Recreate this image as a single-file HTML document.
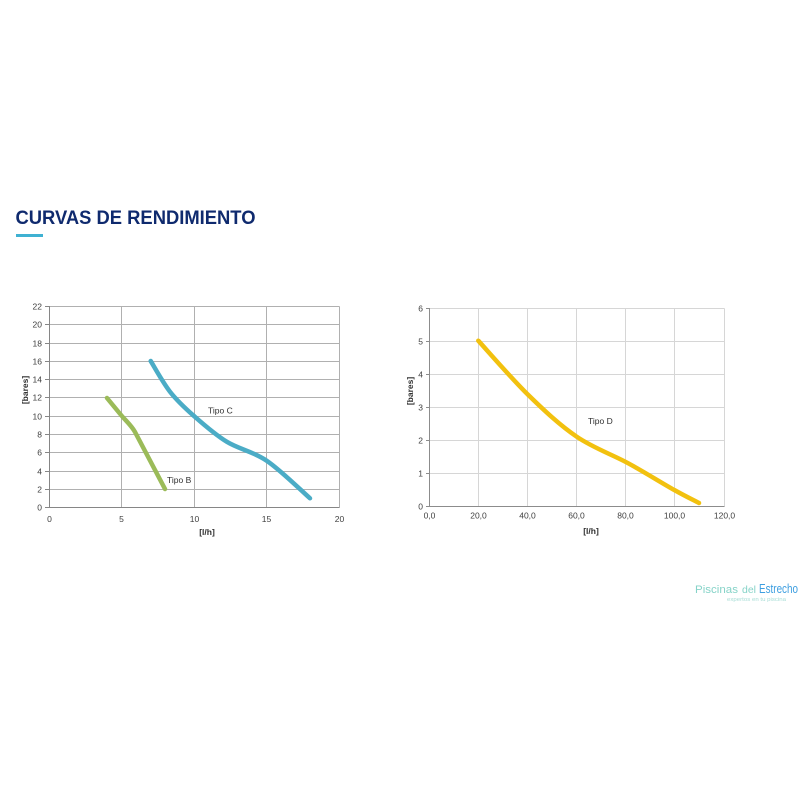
<!DOCTYPE html>
<html>
<head>
<meta charset="utf-8">
<style>
html,body{margin:0;padding:0;background:#fff;}
svg{display:block;}
text{font-family:"Liberation Sans",sans-serif;}
</style>
</head>
<body>
<svg width="800" height="800" viewBox="0 0 800 800" xmlns="http://www.w3.org/2000/svg">
<rect width="800" height="800" fill="#fff"/>
<!-- Title -->
<text x="15.5" y="224" font-size="19" font-weight="bold" fill="#0f2a6e" textLength="240" lengthAdjust="spacingAndGlyphs">CURVAS DE RENDIMIENTO</text>
<rect x="16" y="234" width="27" height="3" fill="#3fb1d2"/>

<!-- Left chart grid -->
<g stroke="#b0b0b0" stroke-width="1" fill="none">
<line x1="49" y1="489.5" x2="339.5" y2="489.5"/>
<line x1="49" y1="471.5" x2="339.5" y2="471.5"/>
<line x1="49" y1="452.5" x2="339.5" y2="452.5"/>
<line x1="49" y1="434.5" x2="339.5" y2="434.5"/>
<line x1="49" y1="416.5" x2="339.5" y2="416.5"/>
<line x1="49" y1="397.5" x2="339.5" y2="397.5"/>
<line x1="49" y1="379.5" x2="339.5" y2="379.5"/>
<line x1="49" y1="361.5" x2="339.5" y2="361.5"/>
<line x1="49" y1="343.5" x2="339.5" y2="343.5"/>
<line x1="49" y1="324.5" x2="339.5" y2="324.5"/>
<line x1="49" y1="306.5" x2="339.5" y2="306.5"/>
<line x1="121.5" y1="306.5" x2="121.5" y2="507.5"/>
<line x1="194.5" y1="306.5" x2="194.5" y2="507.5"/>
<line x1="266.5" y1="306.5" x2="266.5" y2="507.5"/>
<line x1="339.5" y1="306.5" x2="339.5" y2="507.5"/>
</g>
<g stroke="#868686" stroke-width="1">
<line x1="49.5" y1="306" x2="49.5" y2="508"/>
<line x1="49" y1="507.5" x2="339.5" y2="507.5"/>
<line x1="45" y1="507.5" x2="49" y2="507.5"/><line x1="45" y1="489.5" x2="49" y2="489.5"/>
<line x1="45" y1="471.5" x2="49" y2="471.5"/><line x1="45" y1="452.5" x2="49" y2="452.5"/>
<line x1="45" y1="434.5" x2="49" y2="434.5"/><line x1="45" y1="416.5" x2="49" y2="416.5"/>
<line x1="45" y1="397.5" x2="49" y2="397.5"/><line x1="45" y1="379.5" x2="49" y2="379.5"/>
<line x1="45" y1="361.5" x2="49" y2="361.5"/><line x1="45" y1="343.5" x2="49" y2="343.5"/>
<line x1="45" y1="324.5" x2="49" y2="324.5"/><line x1="45" y1="306.5" x2="49" y2="306.5"/>
</g>
<g font-size="8.5" fill="#404040" text-anchor="end">
<text x="42" y="510.5">0</text>
<text x="42" y="492.5">2</text>
<text x="42" y="474.5">4</text>
<text x="42" y="455.5">6</text>
<text x="42" y="437.5">8</text>
<text x="42" y="419.5">10</text>
<text x="42" y="400.5">12</text>
<text x="42" y="382.5">14</text>
<text x="42" y="364.5">16</text>
<text x="42" y="346.5">18</text>
<text x="42" y="327.5">20</text>
<text x="42" y="309.5">22</text>
</g>
<g font-size="8.5" fill="#404040" text-anchor="middle">
<text x="49.5" y="522">0</text>
<text x="121.5" y="522">5</text>
<text x="194.5" y="522">10</text>
<text x="266.5" y="522">15</text>
<text x="339.5" y="522">20</text>
</g>
<text x="207" y="535" font-size="8.5" font-weight="bold" fill="#303030" text-anchor="middle">[l/h]</text>
<text transform="translate(28,390) rotate(-90)" font-size="8.5" font-weight="bold" fill="#303030" text-anchor="middle">[bares]</text>

<!-- Tipo B -->
<path d="M107,398 L121,415 C126,421 131,425 135,432 L165,489" fill="none" stroke="#9bbb59" stroke-width="4.5" stroke-linecap="round" stroke-linejoin="round"/>
<!-- Tipo C -->
<path d="M150.7,361 C153.9,366.1 162.8,382.5 170,391.7 C177.2,400.9 184.55,407.67 194,416 C203.45,424.33 214.6,434.25 226.7,441.7 C238.8,449.15 252.8,451.3 266.7,460.7 C280.6,470.1 302.8,492 310,498.3" fill="none" stroke="#4bacc6" stroke-width="4.5" stroke-linecap="round" stroke-linejoin="round"/>
<text x="208" y="413.5" font-size="8.5" fill="#303030">Tipo C</text>
<text x="167" y="483" font-size="8.5" fill="#303030">Tipo B</text>

<!-- Right chart grid -->
<g stroke="#d6d6d6" stroke-width="1" fill="none">
<line x1="429" y1="473.5" x2="724.5" y2="473.5"/>
<line x1="429" y1="440.5" x2="724.5" y2="440.5"/>
<line x1="429" y1="407.5" x2="724.5" y2="407.5"/>
<line x1="429" y1="374.5" x2="724.5" y2="374.5"/>
<line x1="429" y1="341.5" x2="724.5" y2="341.5"/>
<line x1="429" y1="308.5" x2="724.5" y2="308.5"/>
<line x1="478.5" y1="308.5" x2="478.5" y2="506.5"/>
<line x1="527.5" y1="308.5" x2="527.5" y2="506.5"/>
<line x1="576.5" y1="308.5" x2="576.5" y2="506.5"/>
<line x1="625.5" y1="308.5" x2="625.5" y2="506.5"/>
<line x1="674.5" y1="308.5" x2="674.5" y2="506.5"/>
<line x1="724.5" y1="308.5" x2="724.5" y2="506.5"/>
</g>
<g stroke="#8c8c8c" stroke-width="1">
<line x1="429.5" y1="308" x2="429.5" y2="507"/>
<line x1="429" y1="506.5" x2="724.5" y2="506.5"/>
<line x1="426" y1="506.5" x2="429" y2="506.5"/><line x1="426" y1="473.5" x2="429" y2="473.5"/>
<line x1="426" y1="440.5" x2="429" y2="440.5"/><line x1="426" y1="407.5" x2="429" y2="407.5"/>
<line x1="426" y1="374.5" x2="429" y2="374.5"/><line x1="426" y1="341.5" x2="429" y2="341.5"/>
<line x1="426" y1="308.5" x2="429" y2="308.5"/>
</g>
<g font-size="8.5" fill="#404040" text-anchor="end">
<text x="423" y="509.5">0</text>
<text x="423" y="476.5">1</text>
<text x="423" y="443.5">2</text>
<text x="423" y="410.5">3</text>
<text x="423" y="377.5">4</text>
<text x="423" y="344.5">5</text>
<text x="423" y="311.5">6</text>
</g>
<g font-size="8.5" fill="#404040" text-anchor="middle">
<text x="429.5" y="518.5">0,0</text>
<text x="478.5" y="518.5">20,0</text>
<text x="527.5" y="518.5">40,0</text>
<text x="576.5" y="518.5">60,0</text>
<text x="625.5" y="518.5">80,0</text>
<text x="674.5" y="518.5">100,0</text>
<text x="724.5" y="518.5">120,0</text>
</g>
<text x="591" y="534" font-size="8.5" font-weight="bold" fill="#303030" text-anchor="middle">[l/h]</text>
<text transform="translate(413,391) rotate(-90)" font-size="8.5" font-weight="bold" fill="#303030" text-anchor="middle">[bares]</text>

<!-- Tipo D -->
<path d="M478.3,340.7 C486.6,349.75 511.9,379 528.3,395 C544.7,411 560,425.3 576.7,436.7 C593.4,448.1 612,454.4 628.3,463.3 C644.6,472.2 662.5,483.4 674.3,490 C686.1,496.6 694.9,500.8 699,503" fill="none" stroke="#f2c10f" stroke-width="4.5" stroke-linecap="round" stroke-linejoin="round"/>
<text x="588" y="424" font-size="8.5" fill="#303030">Tipo D</text>

<!-- Logo -->
<text x="695" y="593" font-size="11" fill="#86d3c8" textLength="43" lengthAdjust="spacingAndGlyphs">Piscinas</text>
<text x="742" y="593" font-size="10" fill="#86d3c8" textLength="14" lengthAdjust="spacingAndGlyphs">del</text>
<text x="759" y="593" font-size="12.5" fill="#3d9ee0" textLength="39" lengthAdjust="spacingAndGlyphs">Estrecho</text>
<text x="727" y="601" font-size="5" fill="#a8ddd6" textLength="59" lengthAdjust="spacingAndGlyphs">expertos en tu piscina</text>
</svg>
</body>
</html>
